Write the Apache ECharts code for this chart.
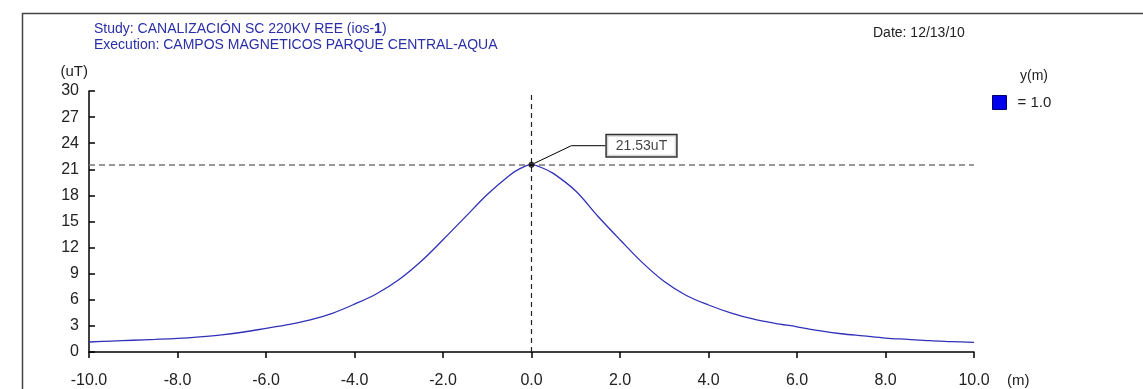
<!DOCTYPE html>
<html>
<head>
<meta charset="utf-8">
<script src="https://cdn.jsdelivr.net/npm/echarts@6/dist/echarts.min.js"></script>
<style>
html,body{margin:0;padding:0;background:#fff;}
#c{width:1143px;height:389px;}
</style>
</head>
<body>
<div id="c"></div>
<script>
// ---- data ----
const distances = [-10, -9.5, -9, -8.5, -8, -7.5, -7, -6.5, -6, -5.5, -5, -4.5, -4, -3.5, -3, -2.5, -2, -1.5, -1, -0.5, -0.25, 0, 0.25, 0.5, 1, 1.5, 2, 2.5, 3, 3.5, 4, 4.5, 5, 5.5, 6, 6.5, 7, 7.5, 8, 8.5, 9, 9.5, 10];
const fieldValues = [1.15, 1.25, 1.35, 1.45, 1.57, 1.75, 1.98, 2.3, 2.72, 3.15, 3.7, 4.45, 5.5, 6.7, 8.3, 10.4, 12.9, 15.5, 18.1, 20.3, 21.1, 21.53, 21.15, 20.5, 18.5, 15.6, 12.9, 10.3, 8.1, 6.5, 5.4, 4.5, 3.8, 3.3, 2.9, 2.45, 2.1, 1.85, 1.6, 1.45, 1.3, 1.2, 1.1];
const peakX = 0;
const peakValue = 21.53;
const peakLabel = '21.53uT';
const seriesName = '= 1.0';
const legendTitle = 'y(m)';
const studyText = 'Study: CANALIZACIÓN SC 220KV REE (ios-';
const studyNum = '1';
const executionText = 'Execution: CAMPOS MAGNETICOS PARQUE CENTRAL-AQUA';
const dateText = 'Date: 12/13/10';

const lineData = distances.map((d, i) => [d, fieldValues[i]]);

const chart = echarts.init(document.getElementById('c'), null, {renderer: 'canvas'});
const FONT = 'Liberation Sans';
chart.setOption({
  animation: false,
  backgroundColor: '#fff',
  textStyle: {fontFamily: FONT},
  title: [
    {
      left: 89, top: 17,
      text: '{a|' + studyText + '}{b|' + studyNum + '}{a|)}',
      textStyle: {fontWeight: 'normal', rich: {
        a: {fontFamily: FONT, fontSize: 14, color: '#2a2fa8', fontWeight: 'normal'},
        b: {fontFamily: FONT, fontSize: 14, color: '#2a2fa8', fontWeight: 'bold'}
      }}
    },
    {
      left: 89, top: 33,
      text: executionText,
      textStyle: {fontFamily: FONT, fontSize: 14, color: '#2a2fa8', fontWeight: 'normal'}
    },
    {
      left: 868, top: 21,
      text: dateText,
      textStyle: {fontFamily: FONT, fontSize: 14, color: '#222', fontWeight: 'normal'}
    },
    {
      left: 1015, top: 64,
      text: legendTitle,
      textStyle: {fontFamily: FONT, fontSize: 14, color: '#222', fontWeight: 'normal'}
    }
  ],
  legend: {
    left: 987, top: 90,
    data: [{name: seriesName, icon: 'rect', itemStyle: {color: '#0000ee', borderColor: '#00006a', borderWidth: 1}}],
    itemWidth: 14, itemHeight: 14,
    textStyle: {fontFamily: FONT, fontSize: 15, color: '#222', padding: [0, 0, 0, 6]},
    selectedMode: false
  },
  graphic: [{
    type: 'polyline',
    silent: true,
    shape: {points: [[22.5, 389], [22.5, 13.5], [1143, 13.5]]},
    style: {stroke: '#444', lineWidth: 1.5, fill: null}
  }],
  grid: {left: 89, right: 169, top: 91, bottom: 37, containLabel: false},
  xAxis: {
    type: 'value', min: -10, max: 10, interval: 2,
    name: '(m)', nameLocation: 'end', nameGap: 33,
    nameTextStyle: {fontFamily: FONT, fontSize: 15, color: '#222', verticalAlign: 'top', padding: [21, 0, 0, 0]},
    axisLine: {show: true, onZero: false, lineStyle: {color: '#000', width: 1.5}},
    axisTick: {show: true, inside: false, length: 6, lineStyle: {color: '#000', width: 1.5}},
    axisLabel: {margin: 21, fontFamily: FONT, fontSize: 16, color: '#222', formatter: v => v.toFixed(1)},
    splitLine: {show: false}
  },
  yAxis: {
    type: 'value', min: 0, max: 30, interval: 3,
    name: '(uT)', nameLocation: 'end', nameGap: 12,
    nameTextStyle: {fontFamily: FONT, fontSize: 15, color: '#222', align: 'right', padding: [0, 1, 0, 0]},
    axisLine: {show: true, onZero: false, lineStyle: {color: '#000', width: 1.5}},
    axisTick: {show: true, inside: true, length: 6, lineStyle: {color: '#000', width: 1.5}},
    axisLabel: {margin: 10, fontFamily: FONT, fontSize: 16, color: '#222'},
    splitLine: {show: false}
  },
  series: [
    {
      name: seriesName,
      type: 'line',
      data: lineData,
      smooth: 0.35,
      showSymbol: false,
      lineStyle: {color: '#3030b8', width: 1.3},
      itemStyle: {color: '#0000ee'},
      markLine: {
        silent: true,
        symbol: 'none',
        label: {show: false},
        data: [
          {yAxis: peakValue, lineStyle: {color: '#777', type: [6, 4], width: 1.5}},
          {xAxis: peakX, lineStyle: {color: '#222', type: [5, 4], width: 1.2}}
        ]
      }
    },
    {
      name: 'peak',
      type: 'scatter',
      data: [[peakX, peakValue]],
      symbolSize: 6,
      itemStyle: {color: '#000'},
      z: 5,
      label: {
        show: true, formatter: peakLabel, position: 'inside',
        fontFamily: FONT, fontSize: 14, color: '#111',
        backgroundColor: '#fff', borderColor: '#000', borderWidth: 1.5,
        padding: [4, 9, 3, 9]
      },
      labelLayout: {dx: 110, dy: -19},
      labelLine: {show: true, length2: 34, lineStyle: {color: '#000', width: 1}}
    }
  ]
});
</script>
</body>
</html>
